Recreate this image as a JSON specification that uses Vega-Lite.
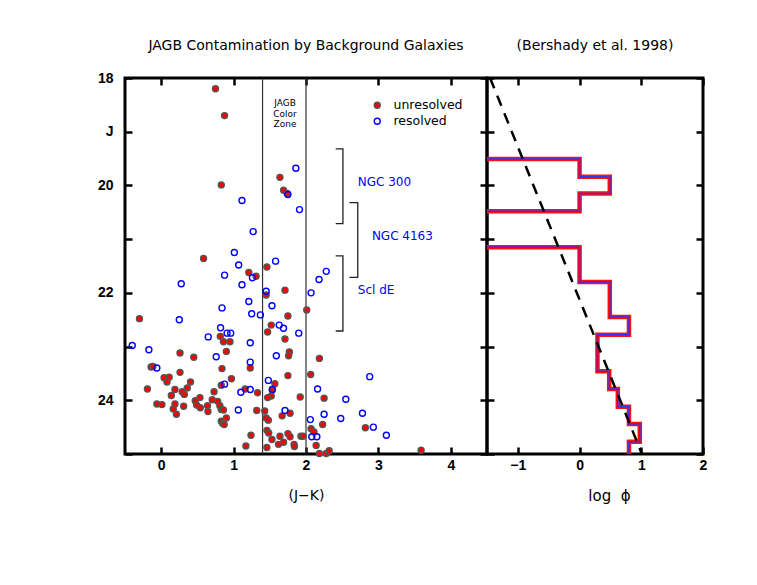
{
  "$schema": "https://vega.github.io/schema/vega-lite/v6.json",
  "background": "white",
  "padding": {"left": 95, "top": 37, "right": 5, "bottom": 5},
  "spacing": 0,
  "bounds": "flush",
  "config": {
    "view": {"stroke": "black", "strokeWidth": 3},
    "font": "DejaVu Sans",
    "axis": {"grid": false, "domain": false, "tickColor": "black", "tickWidth": 2.5, "tickSize": -7, "labelFont": "Liberation Sans", "labelFontSize": 14, "labelFontWeight": "bold", "labelColor": "black", "titleFont": "DejaVu Sans", "titleFontSize": 14, "titleFontWeight": "normal", "titleColor": "black", "labelFlush": false, "labelOverlap": false},
    "axisX": {"labelPadding": 11, "titlePadding": 16},
    "axisY": {"labelPadding": 19},
    "title": {"font": "DejaVu Sans", "fontSize": 14, "fontWeight": "normal", "color": "black", "offset": 22, "frame": "group"},
    "legend": {"orient": "none", "legendX": 246, "legendY": 21, "labelFont": "DejaVu Sans", "labelFontSize": 12.5, "labelColor": "black", "symbolSize": 36, "symbolStrokeWidth": 1.4, "labelOffset": 10, "rowPadding": 3, "padding": 0}
  },
  "hconcat": [
    {
      "width": 362,
      "height": 376,
      "title": {"text": "JAGB Contamination by Background Galaxies", "offset": 18},
      "layer": [
        {
          "data": {"values": [{"jk": 1.4}, {"jk": 2.0}]},
          "mark": {"type": "rule", "color": "#333333", "strokeWidth": 1.2},
          "encoding": {
            "x": {"field": "jk", "type": "quantitative", "scale": {"domain": [-0.5, 4.5], "nice": false, "zero": false}, "axis": null}
          }
        },
        {
          "data": {"values": [
            {"b": "NGC 300", "i": 1, "jk": 2.41, "j": 19.32},
            {"b": "NGC 300", "i": 2, "jk": 2.51, "j": 19.32},
            {"b": "NGC 300", "i": 3, "jk": 2.51, "j": 20.71},
            {"b": "NGC 300", "i": 4, "jk": 2.41, "j": 20.71},
            {"b": "NGC 4163", "i": 1, "jk": 2.6, "j": 20.32},
            {"b": "NGC 4163", "i": 2, "jk": 2.715, "j": 20.32},
            {"b": "NGC 4163", "i": 3, "jk": 2.715, "j": 21.71},
            {"b": "NGC 4163", "i": 4, "jk": 2.6, "j": 21.71},
            {"b": "Scl dE", "i": 1, "jk": 2.41, "j": 21.31},
            {"b": "Scl dE", "i": 2, "jk": 2.51, "j": 21.31},
            {"b": "Scl dE", "i": 3, "jk": 2.51, "j": 22.71},
            {"b": "Scl dE", "i": 4, "jk": 2.41, "j": 22.71}
          ]},
          "mark": {"type": "line", "color": "#222222", "strokeWidth": 1.3},
          "encoding": {
            "x": {"field": "jk", "type": "quantitative", "scale": {"domain": [-0.5, 4.5], "nice": false, "zero": false}, "axis": {"orient": "top", "values": [0, 1, 2, 3, 4], "labels": false, "title": null}},
            "y": {"field": "j", "type": "quantitative", "scale": {"domain": [18, 25], "reverse": true, "nice": false, "zero": false}, "axis": {"orient": "right", "values": [18, 19, 20, 21, 22, 23, 24, 25], "labels": false, "title": null}},
            "detail": {"field": "b"},
            "order": {"field": "i", "type": "quantitative"}
          }
        },
        {
          "data": {"values": [
            {"label": "NGC 300", "jk": 2.715, "j": 19.94},
            {"label": "NGC 4163", "jk": 2.91, "j": 20.94},
            {"label": "Scl dE", "jk": 2.715, "j": 21.95}
          ]},
          "mark": {"type": "text", "align": "left", "baseline": "middle", "color": "#0000ff", "font": "DejaVu Sans", "fontSize": 12},
          "encoding": {
            "x": {"field": "jk", "type": "quantitative", "scale": {"domain": [-0.5, 4.5], "nice": false, "zero": false}, "axis": null},
            "y": {"field": "j", "type": "quantitative", "scale": {"domain": [18, 25], "reverse": true, "nice": false, "zero": false}, "axis": null},
            "text": {"field": "label"}
          }
        },
        {
          "data": {"values": [{"label": "JAGB\nColor\nZone", "jk": 1.71, "j": 18.47}]},
          "mark": {"type": "text", "align": "center", "baseline": "middle", "color": "black", "font": "DejaVu Sans", "fontSize": 9, "lineBreak": "\n", "lineHeight": 10.5},
          "encoding": {
            "x": {"field": "jk", "type": "quantitative", "scale": {"domain": [-0.5, 4.5], "nice": false, "zero": false}, "axis": null},
            "y": {"field": "j", "type": "quantitative", "scale": {"domain": [18, 25], "reverse": true, "nice": false, "zero": false}, "axis": null},
            "text": {"field": "label"}
          }
        },
        {
          "data": {"values": [
            {"type": "unresolved", "jk": 0.75, "j": 18.2},
            {"type": "unresolved", "jk": 0.875, "j": 18.7},
            {"type": "unresolved", "jk": 0.83, "j": 19.99},
            {"type": "unresolved", "jk": 1.64, "j": 19.85},
            {"type": "unresolved", "jk": 1.69, "j": 20.09},
            {"type": "unresolved", "jk": 1.74, "j": 20.15},
            {"type": "unresolved", "jk": 0.585, "j": 21.36},
            {"type": "unresolved", "jk": 1.21, "j": 21.62},
            {"type": "unresolved", "jk": 1.31, "j": 21.69},
            {"type": "unresolved", "jk": 1.46, "j": 21.52},
            {"type": "unresolved", "jk": 1.71, "j": 21.95},
            {"type": "unresolved", "jk": 1.45, "j": 22.04},
            {"type": "unresolved", "jk": 1.75, "j": 22.43},
            {"type": "unresolved", "jk": 2.01, "j": 22.32},
            {"type": "unresolved", "jk": 1.52, "j": 22.6},
            {"type": "unresolved", "jk": 1.47, "j": 22.73},
            {"type": "unresolved", "jk": 1.71, "j": 22.86},
            {"type": "unresolved", "jk": 1.77, "j": 23.1},
            {"type": "unresolved", "jk": 1.76, "j": 23.17},
            {"type": "unresolved", "jk": 2.185, "j": 23.22},
            {"type": "unresolved", "jk": 1.23, "j": 23.4},
            {"type": "unresolved", "jk": 1.75, "j": 23.54},
            {"type": "unresolved", "jk": 2.065, "j": 23.52},
            {"type": "unresolved", "jk": 1.57, "j": 23.69},
            {"type": "unresolved", "jk": 1.535, "j": 23.81},
            {"type": "unresolved", "jk": 1.52, "j": 23.92},
            {"type": "unresolved", "jk": 1.47, "j": 23.95},
            {"type": "unresolved", "jk": 1.33, "j": 23.86},
            {"type": "unresolved", "jk": 2.25, "j": 23.96},
            {"type": "unresolved", "jk": 1.92, "j": 23.94},
            {"type": "unresolved", "jk": 1.32, "j": 24.19},
            {"type": "unresolved", "jk": 1.43, "j": 24.2},
            {"type": "unresolved", "jk": 1.78, "j": 24.24},
            {"type": "unresolved", "jk": 1.67, "j": 24.29},
            {"type": "unresolved", "jk": 1.45, "j": 24.33},
            {"type": "unresolved", "jk": 1.48, "j": 24.37},
            {"type": "unresolved", "jk": 2.23, "j": 24.45},
            {"type": "unresolved", "jk": 2.07, "j": 24.53},
            {"type": "unresolved", "jk": 2.11, "j": 24.59},
            {"type": "unresolved", "jk": 1.24, "j": 24.65},
            {"type": "unresolved", "jk": 1.46, "j": 24.56},
            {"type": "unresolved", "jk": 1.485, "j": 24.61},
            {"type": "unresolved", "jk": 1.75, "j": 24.62},
            {"type": "unresolved", "jk": 1.64, "j": 24.67},
            {"type": "unresolved", "jk": 1.78, "j": 24.68},
            {"type": "unresolved", "jk": 1.93, "j": 24.67},
            {"type": "unresolved", "jk": 1.96, "j": 24.67},
            {"type": "unresolved", "jk": 1.53, "j": 24.73},
            {"type": "unresolved", "jk": 1.69, "j": 24.78},
            {"type": "unresolved", "jk": 1.62, "j": 24.82},
            {"type": "unresolved", "jk": 1.835, "j": 24.82},
            {"type": "unresolved", "jk": 1.84, "j": 24.86},
            {"type": "unresolved", "jk": 1.46, "j": 24.88},
            {"type": "unresolved", "jk": 2.14, "j": 24.84},
            {"type": "unresolved", "jk": 2.185, "j": 24.99},
            {"type": "unresolved", "jk": 2.28, "j": 24.99},
            {"type": "unresolved", "jk": 2.32, "j": 24.94},
            {"type": "unresolved", "jk": 2.82, "j": 24.51},
            {"type": "unresolved", "jk": 3.59, "j": 24.93},
            {"type": "unresolved", "jk": -0.3, "j": 22.48},
            {"type": "unresolved", "jk": 0.816, "j": 22.81},
            {"type": "unresolved", "jk": 0.86, "j": 22.91},
            {"type": "unresolved", "jk": 0.95, "j": 22.91},
            {"type": "unresolved", "jk": 0.26, "j": 23.12},
            {"type": "unresolved", "jk": 0.9, "j": 23.09},
            {"type": "unresolved", "jk": 0.45, "j": 23.2},
            {"type": "unresolved", "jk": -0.14, "j": 23.38},
            {"type": "unresolved", "jk": -0.115, "j": 23.37},
            {"type": "unresolved", "jk": 0.26, "j": 23.48},
            {"type": "unresolved", "jk": 0.84, "j": 23.41},
            {"type": "unresolved", "jk": 0.04, "j": 23.58},
            {"type": "unresolved", "jk": 0.11, "j": 23.57},
            {"type": "unresolved", "jk": 0.08, "j": 23.66},
            {"type": "unresolved", "jk": 0.97, "j": 23.6},
            {"type": "unresolved", "jk": 0.405, "j": 23.66},
            {"type": "unresolved", "jk": 0.36, "j": 23.77},
            {"type": "unresolved", "jk": 0.83, "j": 23.72},
            {"type": "unresolved", "jk": -0.19, "j": 23.79},
            {"type": "unresolved", "jk": 0.19, "j": 23.8},
            {"type": "unresolved", "jk": 0.29, "j": 23.84},
            {"type": "unresolved", "jk": 0.32, "j": 23.89},
            {"type": "unresolved", "jk": 0.14, "j": 23.91},
            {"type": "unresolved", "jk": 0.73, "j": 23.84},
            {"type": "unresolved", "jk": 1.16, "j": 23.79},
            {"type": "unresolved", "jk": 0.535, "j": 23.95},
            {"type": "unresolved", "jk": 0.47, "j": 24.01},
            {"type": "unresolved", "jk": 0.49, "j": 24.09},
            {"type": "unresolved", "jk": 0.78, "j": 24.02},
            {"type": "unresolved", "jk": 0.705, "j": 23.99},
            {"type": "unresolved", "jk": -0.06, "j": 24.07},
            {"type": "unresolved", "jk": 0.01, "j": 24.08},
            {"type": "unresolved", "jk": 0.19, "j": 24.07},
            {"type": "unresolved", "jk": 0.166, "j": 24.16},
            {"type": "unresolved", "jk": 0.21, "j": 24.26},
            {"type": "unresolved", "jk": 0.31, "j": 24.11},
            {"type": "unresolved", "jk": 0.54, "j": 24.14},
            {"type": "unresolved", "jk": 0.64, "j": 24.1},
            {"type": "unresolved", "jk": 0.646, "j": 24.21},
            {"type": "unresolved", "jk": 0.81, "j": 24.1},
            {"type": "unresolved", "jk": 0.83, "j": 24.17},
            {"type": "unresolved", "jk": 0.86, "j": 24.18},
            {"type": "unresolved", "jk": 0.83, "j": 24.39},
            {"type": "unresolved", "jk": 0.85, "j": 24.43},
            {"type": "unresolved", "jk": 0.87, "j": 24.45},
            {"type": "unresolved", "jk": 0.9, "j": 24.33},
            {"type": "unresolved", "jk": 1.17, "j": 24.85},
            {"type": "resolved", "jk": 1.116, "j": 20.28},
            {"type": "resolved", "jk": 1.27, "j": 20.86},
            {"type": "resolved", "jk": 1.01, "j": 21.25},
            {"type": "resolved", "jk": 1.07, "j": 21.48},
            {"type": "resolved", "jk": 0.875, "j": 21.67},
            {"type": "resolved", "jk": 1.26, "j": 21.72},
            {"type": "resolved", "jk": 1.116, "j": 21.85},
            {"type": "resolved", "jk": 0.277, "j": 21.83},
            {"type": "resolved", "jk": 1.58, "j": 21.41},
            {"type": "resolved", "jk": 1.45, "j": 21.97},
            {"type": "resolved", "jk": 1.86, "j": 19.68},
            {"type": "resolved", "jk": 1.75, "j": 20.17},
            {"type": "resolved", "jk": 1.91, "j": 20.45},
            {"type": "resolved", "jk": 2.28, "j": 21.6},
            {"type": "resolved", "jk": 2.18, "j": 21.75},
            {"type": "resolved", "jk": 2.07, "j": 22.0},
            {"type": "resolved", "jk": 1.53, "j": 22.24},
            {"type": "resolved", "jk": 1.25, "j": 22.39},
            {"type": "resolved", "jk": 1.37, "j": 22.41},
            {"type": "resolved", "jk": 1.63, "j": 22.6},
            {"type": "resolved", "jk": 1.69, "j": 22.66},
            {"type": "resolved", "jk": 1.9, "j": 22.75},
            {"type": "resolved", "jk": 1.23, "j": 22.93},
            {"type": "resolved", "jk": 1.59, "j": 23.17},
            {"type": "resolved", "jk": 1.23, "j": 23.29},
            {"type": "resolved", "jk": 1.48, "j": 23.63},
            {"type": "resolved", "jk": 2.16, "j": 23.79},
            {"type": "resolved", "jk": 1.23, "j": 23.8},
            {"type": "resolved", "jk": 1.535, "j": 23.8},
            {"type": "resolved", "jk": 2.55, "j": 23.98},
            {"type": "resolved", "jk": 1.71, "j": 24.19},
            {"type": "resolved", "jk": 2.25, "j": 24.26},
            {"type": "resolved", "jk": 2.06, "j": 24.36},
            {"type": "resolved", "jk": 2.48, "j": 24.34},
            {"type": "resolved", "jk": 2.08, "j": 24.68},
            {"type": "resolved", "jk": 2.15, "j": 24.68},
            {"type": "resolved", "jk": 2.88, "j": 23.56},
            {"type": "resolved", "jk": 2.78, "j": 24.24},
            {"type": "resolved", "jk": 2.93, "j": 24.5},
            {"type": "resolved", "jk": 3.11, "j": 24.65},
            {"type": "resolved", "jk": 1.21, "j": 22.16},
            {"type": "resolved", "jk": 0.84, "j": 22.28},
            {"type": "resolved", "jk": 0.25, "j": 22.5},
            {"type": "resolved", "jk": 0.82, "j": 22.65},
            {"type": "resolved", "jk": 0.91, "j": 22.75},
            {"type": "resolved", "jk": 0.96, "j": 22.75},
            {"type": "resolved", "jk": 0.65, "j": 22.82},
            {"type": "resolved", "jk": -0.4, "j": 22.98},
            {"type": "resolved", "jk": -0.17, "j": 23.06},
            {"type": "resolved", "jk": 0.76, "j": 23.19},
            {"type": "resolved", "jk": -0.06, "j": 23.4},
            {"type": "resolved", "jk": 0.875, "j": 23.7},
            {"type": "resolved", "jk": 1.1, "j": 23.85},
            {"type": "resolved", "jk": 1.065, "j": 24.18}
          ]},
          "mark": {"type": "point", "shape": "circle", "size": 36, "strokeWidth": 1.4, "opacity": 1},
          "encoding": {
            "x": {"field": "jk", "type": "quantitative", "scale": {"domain": [-0.5, 4.5], "nice": false, "zero": false}, "axis": {"orient": "bottom", "values": [0, 1, 2, 3, 4], "format": "d", "title": "(J−K)"}},
            "y": {"field": "j", "type": "quantitative", "scale": {"domain": [18, 25], "reverse": true, "nice": false, "zero": false}, "axis": {"orient": "left", "values": [18, 19, 20, 21, 22, 23, 24, 25], "labelExpr": "datum.value == 19 ? 'J' : ((datum.value % 2 == 0 && datum.value < 25) ? datum.label : '')", "title": null}},
            "fill": {"field": "type", "type": "nominal", "scale": {"domain": ["unresolved", "resolved"], "range": ["#ff0000", "transparent"]}, "legend": {"title": null}},
            "stroke": {"field": "type", "type": "nominal", "scale": {"domain": ["unresolved", "resolved"], "range": ["#555555", "#0000ff"]}, "legend": {"title": null}}
          }
        }
      ]
    },
    {
      "width": 216,
      "height": 376,
      "title": {"text": "(Bershady et al. 1998)", "offset": 24},
      "layer": [
        {
          "data": {"values": [
            {"seg": "a", "i": 1, "lphi": -1.5, "j": 19.51},
            {"seg": "a", "i": 2, "lphi": 0, "j": 19.51},
            {"seg": "a", "i": 3, "lphi": 0, "j": 19.84},
            {"seg": "a", "i": 4, "lphi": 0.49, "j": 19.84},
            {"seg": "a", "i": 5, "lphi": 0.49, "j": 20.15},
            {"seg": "a", "i": 6, "lphi": 0, "j": 20.15},
            {"seg": "a", "i": 7, "lphi": 0, "j": 20.48},
            {"seg": "a", "i": 8, "lphi": -1.5, "j": 20.48},
            {"seg": "b", "i": 1, "lphi": -1.5, "j": 21.15},
            {"seg": "b", "i": 2, "lphi": 0, "j": 21.15},
            {"seg": "b", "i": 3, "lphi": 0, "j": 21.8},
            {"seg": "b", "i": 4, "lphi": 0.49, "j": 21.8},
            {"seg": "b", "i": 5, "lphi": 0.49, "j": 22.45},
            {"seg": "b", "i": 6, "lphi": 0.8, "j": 22.45},
            {"seg": "b", "i": 7, "lphi": 0.8, "j": 22.78},
            {"seg": "b", "i": 8, "lphi": 0.29, "j": 22.78},
            {"seg": "b", "i": 9, "lphi": 0.29, "j": 23.46},
            {"seg": "b", "i": 10, "lphi": 0.48, "j": 23.46},
            {"seg": "b", "i": 11, "lphi": 0.48, "j": 23.79},
            {"seg": "b", "i": 12, "lphi": 0.62, "j": 23.79},
            {"seg": "b", "i": 13, "lphi": 0.62, "j": 24.12},
            {"seg": "b", "i": 14, "lphi": 0.8, "j": 24.12},
            {"seg": "b", "i": 15, "lphi": 0.8, "j": 24.44},
            {"seg": "b", "i": 16, "lphi": 0.976, "j": 24.44},
            {"seg": "b", "i": 17, "lphi": 0.976, "j": 24.77},
            {"seg": "b", "i": 18, "lphi": 0.8, "j": 24.77},
            {"seg": "b", "i": 19, "lphi": 0.8, "j": 25.0}
          ]},
          "layer": [
            {
              "mark": {"type": "line", "color": "#ff1010", "strokeWidth": 4.5, "strokeJoin": "miter", "clip": true},
              "encoding": {
                "x": {"field": "lphi", "type": "quantitative", "scale": {"domain": [-1.5, 2], "nice": false, "zero": false}, "axis": {"orient": "bottom", "values": [-1, 0, 1, 2], "format": "d", "title": "log\u00a0\u00a0ϕ", "titleX": 122, "titleFontSize": 15}},
                "y": {"field": "j", "type": "quantitative", "scale": {"domain": [18, 25], "reverse": true, "nice": false, "zero": false}, "axis": {"orient": "left", "values": [18, 19, 20, 21, 22, 23, 24, 25], "labels": false, "title": null}},
                "detail": {"field": "seg"},
                "order": {"field": "i", "type": "quantitative"}
              }
            },
            {
              "mark": {"type": "line", "color": "#3030ff", "strokeWidth": 1.5, "strokeJoin": "miter", "clip": true},
              "encoding": {
                "x": {"field": "lphi", "type": "quantitative", "scale": {"domain": [-1.5, 2], "nice": false, "zero": false}, "axis": {"orient": "top", "values": [-1, 0, 1, 2], "labels": false, "title": null}},
                "y": {"field": "j", "type": "quantitative", "scale": {"domain": [18, 25], "reverse": true, "nice": false, "zero": false}, "axis": {"orient": "right", "values": [18, 19, 20, 21, 22, 23, 24, 25], "labels": false, "title": null}},
                "detail": {"field": "seg"},
                "order": {"field": "i", "type": "quantitative"}
              }
            }
          ]
        },
        {
          "data": {"values": [{"lphi": -1.45, "j": 18}, {"lphi": 1.01, "j": 25}]},
          "mark": {"type": "line", "color": "black", "strokeWidth": 2.5, "strokeDash": [11, 8], "clip": true},
          "encoding": {
            "x": {"field": "lphi", "type": "quantitative", "scale": {"domain": [-1.5, 2], "nice": false, "zero": false}, "axis": null},
            "y": {"field": "j", "type": "quantitative", "scale": {"domain": [18, 25], "reverse": true, "nice": false, "zero": false}, "axis": null}
          }
        }
      ]
    }
  ]
}
